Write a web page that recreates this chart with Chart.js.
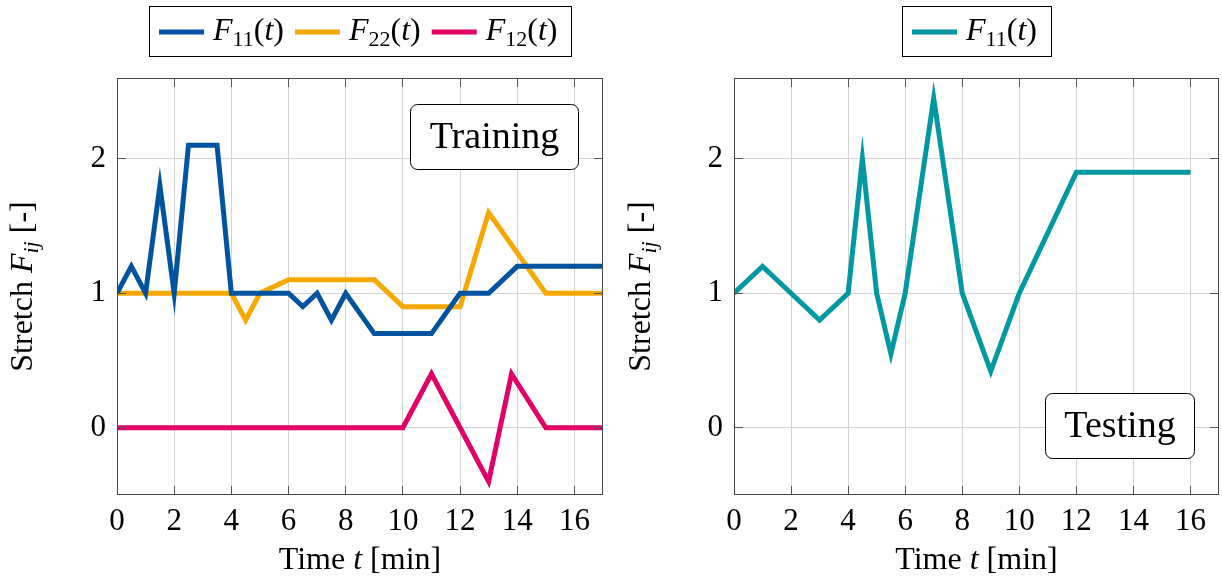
<!DOCTYPE html>
<html lang="en">
<head>
<meta charset="UTF-8">
<title>Stretch F_ij</title>
<style>
  body{margin:0;background:#fff;}
  .wrap{position:relative;width:1222px;height:581px;}
  canvas{position:absolute;top:0;}
</style>
</head>
<body>
<div class="wrap">
  <canvas id="train" width="611" height="581" style="left:0"></canvas>
  <canvas id="test" width="611" height="581" style="left:611px"></canvas>
</div>
<script src="https://cdn.jsdelivr.net/npm/chart.js"></script>
<script>
const FONT = '"Liberation Serif", "Times New Roman", serif'

// axis ticks
const xTicks = [0, 2, 4, 6, 8, 10, 12, 14, 16]
const yTicks = [0, 1, 2]

// training
const tF11 = [0, 0.5, 1, 1.5, 2, 2.5, 3, 3.5, 4, 5, 6, 6.5, 7, 7.5, 8, 9, 10, 11, 12, 13, 14, 15, 16, 17]
const F11  = [1, 1.2, 1, 1.8, 1, 2.1, 2.1, 2.1, 1, 1, 1, 0.9, 1, 0.8, 1, 0.7, 0.7, 0.7, 1, 1, 1.2, 1.2, 1.2, 1.2]
const tF22 = [0, 1, 2, 3, 4, 4.5, 5, 6, 7, 8, 9, 10, 11, 12, 13, 14, 15, 16, 17]
const F22  = [1, 1, 1, 1, 1, 0.8, 1, 1.1, 1.1, 1.1, 1.1, 0.9, 0.9, 0.9, 1.6, 1.3, 1, 1, 1]
const tF12 = [0, 1, 2, 3, 4, 5, 6, 7, 8, 9, 10, 11, 12, 13, 13.8, 15, 16, 17]
const F12  = [0, 0, 0, 0, 0, 0, 0, 0, 0, 0, 0, 0.4, 0, -0.4, 0.4, 0, 0, 0]

// testing
const tTest   = [0, 1, 2, 3, 4, 4.5, 5, 5.5, 6, 7, 8, 9, 10, 11, 12, 13, 14, 15, 16]
const F11Test = [1, 1.2, 1, 0.8, 1, 2.0, 1, 0.55, 1, 2.45, 1, 0.42, 1, 1.45, 1.9, 1.9, 1.9, 1.9, 1.9]

const trainLabels = ['$F_{11}(t)$', '$F_{22}(t)$', '$F_{12}(t)$']
const testLabels = ['$F_{11}(t)$']
const xTitle = 'Time $t$ [min]'
const yTitle = 'Stretch $F_{ij}$ [-]'

const BLUE = '#00549F', ORANGE = '#F6A800', MAGENTA = '#E30066', TURQ = '#0098A1'

// tiny tex-ish parser: letters in $..$ are italic, _{..} is subscript
function parseTex(s){
  let runs = [], math = false
  const push = (t, it, sub) => {
    let last = runs[runs.length-1]
    if (last && last.it === it && last.sub === sub) last.t += t
    else runs.push({t, it, sub})
  }
  for (let i = 0; i < s.length; i++) {
    let c = s[i]
    if (c === '$') { math = !math; continue }
    if (math && c === '_') {
      let grp
      if (s[i+1] === '{') { let j = s.indexOf('}', i); grp = s.slice(i+2, j); i = j }
      else { grp = s[i+1]; i++ }
      for (const g of grp) push(g, /[a-z]/i.test(g), true)
      continue
    }
    push(c, math && /[a-z]/i.test(c), false)
  }
  return runs
}
function runFont(r, size){
  return (r.it ? 'italic ' : '') + (r.sub ? Math.round(size*0.7) : size) + 'px ' + FONT
}
function texWidth(ctx, s, size){
  let w = 0
  parseTex(s).forEach(r => { ctx.font = runFont(r, size); w += ctx.measureText(r.t).width })
  return w
}
function drawTex(ctx, s, x, y, size, align){
  const w = texWidth(ctx, s, size)
  let cx = align === 'center' ? x - w/2 : align === 'right' ? x - w : x
  ctx.textAlign = 'left'; ctx.textBaseline = 'alphabetic'; ctx.fillStyle = '#000'
  parseTex(s).forEach(r => {
    ctx.font = runFont(r, size)
    ctx.fillText(r.t, cx, y + (r.sub ? size*0.2 : 0))
    cx += ctx.measureText(r.t).width
  })
  return w
}
function line(ctx, x1, y1, x2, y2){ ctx.beginPath(); ctx.moveTo(x1, y1); ctx.lineTo(x2, y2); ctx.stroke() }

const decor = {
  id: 'decor',
  afterDatasetsDraw(chart, args, o){
    const ctx = chart.ctx, a = chart.chartArea, xs = chart.scales.x, ys = chart.scales.y
    ctx.save()
    // inward tick marks
    ctx.strokeStyle = '#555'; ctx.lineWidth = 1
    const tl = 9
    xs.ticks.forEach(t => {
      const p = Math.floor(xs.getPixelForValue(t.value)) + 0.5
      line(ctx, p, a.bottom, p, a.bottom - tl); line(ctx, p, a.top, p, a.top + tl)
    })
    ys.ticks.forEach(t => {
      const p = Math.floor(ys.getPixelForValue(t.value)) + 0.5
      line(ctx, a.left, p, a.left + tl, p); line(ctx, a.right, p, a.right - tl, p)
    })
    // frame
    ctx.strokeStyle = '#444'
    ctx.strokeRect(Math.round(a.left) + 0.5, Math.round(a.top) + 0.5, Math.round(a.right - a.left) - 1, Math.round(a.bottom - a.top) - 1)

    // note box
    const n = o.note
    ctx.font = n.size + 'px ' + FONT
    const tw = ctx.measureText(n.text).width
    const bw = Math.round(tw + 2*n.padX), bh = n.h
    const bx = Math.round(a.right - n.dx - bw) + 0.5
    const by = Math.round(n.corner === 'ne' ? a.top + n.dy : a.bottom - n.dy - bh) + 0.5
    ctx.beginPath(); ctx.roundRect(bx, by, bw, bh, 7)
    ctx.fillStyle = '#fff'; ctx.fill()
    ctx.strokeStyle = '#000'; ctx.lineWidth = 1; ctx.stroke()
    ctx.fillStyle = '#000'; ctx.textAlign = 'center'; ctx.textBaseline = 'alphabetic'
    ctx.fillText(n.text, bx + bw/2, by + bh/2 + n.size*0.28)
    ctx.restore()
  },
  afterDraw(chart, args, o){
    const ctx = chart.ctx, a = chart.chartArea
    const size = 32
    ctx.save()
    // legend
    const lineLen = 45, gap = 9, entryGap = 11, padL = 10, padR = 14
    const ds = chart.data.datasets
    const widths = o.labels.map(l => texWidth(ctx, l, size))
    let total = padL + padR + widths.reduce((s, w) => s + lineLen + gap + w, 0) + entryGap*(widths.length - 1)
    let x0 = Math.round((a.left + a.right)/2 - total/2)
    ctx.fillStyle = '#fff'
    ctx.fillRect(x0, 6, total, 51)
    ctx.strokeStyle = '#000'; ctx.lineWidth = 1
    ctx.strokeRect(x0 + 0.5, 6.5, Math.round(total), 50)
    let cx = x0 + padL
    o.labels.forEach((l, i) => {
      ctx.strokeStyle = ds[i].borderColor; ctx.lineWidth = 5; ctx.lineCap = 'butt'
      line(ctx, cx, 32, cx + lineLen, 32)
      cx += lineLen + gap
      drawTex(ctx, l, cx, 40, size, 'left')
      cx += widths[i] + entryGap
    })
    // axis titles
    drawTex(ctx, xTitle, (a.left + a.right)/2, 569, size, 'center')
    ctx.translate(o.yTitleX, (a.top + a.bottom)/2)
    ctx.rotate(-Math.PI/2)
    drawTex(ctx, yTitle, 0, 0, size, 'center')
    ctx.restore()
  }
}

function toPts(ts, vs){ return ts.map((t, i) => ({x: t, y: vs[i]})) }
function ds(ts, vs, color){
  return {data: toPts(ts, vs), borderColor: color, backgroundColor: color, borderWidth: 5,
    pointRadius: 0, tension: 0, borderJoinStyle: 'miter', borderCapStyle: 'butt', fill: false}
}

function makeChart(id, datasets, labels, yWidth, padRight, yTitleX, note){
  return new Chart(document.getElementById(id), {
    type: 'line',
    data: {datasets},
    options: {
      responsive: false, animation: false,
      layout: {padding: {left: 0, right: padRight, top: 78, bottom: 0}},
      plugins: {legend: {display: false}, tooltip: {enabled: false},
        decor: {labels, yTitleX, note}},
      scales: {
        x: {type: 'linear', min: 0, max: 17,
          afterBuildTicks: s => { s.ticks = xTicks.map(v => ({value: v})) },
          afterFit: s => { s.height = 86 },
          ticks: {font: {family: FONT, size: 31}, color: '#000', padding: 8, maxRotation: 0, autoSkip: false},
          grid: {color: '#d2d2d2', drawTicks: false}, border: {display: false}},
        y: {type: 'linear', min: -0.5, max: 2.6,
          afterBuildTicks: s => { s.ticks = yTicks.map(v => ({value: v})) },
          afterFit: s => { s.width = yWidth },
          ticks: {font: {family: FONT, size: 31}, color: '#000', padding: 11},
          grid: {color: '#d2d2d2', drawTicks: false}, border: {display: false}}
      }
    },
    plugins: [decor]
  })
}

makeChart('train', [ds(tF11, F11, BLUE), ds(tF22, F22, ORANGE), ds(tF12, F12, MAGENTA)],
  trainLabels, 117, 8, 32, {text: 'Training', size: 38, padX: 19, h: 65, corner: 'ne', dx: 25, dy: 26})
makeChart('test', [ds(tTest, F11Test, TURQ)],
  testLabels, 123, 3, 39, {text: 'Testing', size: 38, padX: 19, h: 65, corner: 'se', dx: 25, dy: 37})
</script>
</body>
</html>
